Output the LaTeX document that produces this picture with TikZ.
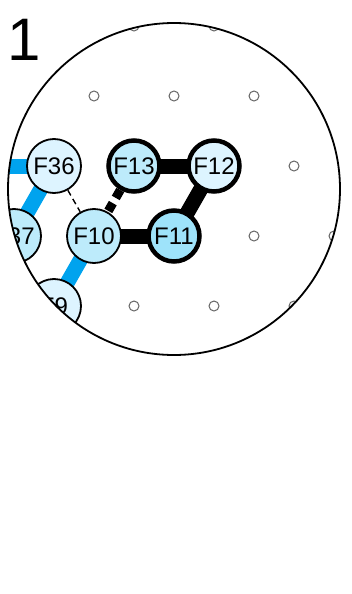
\documentclass[tikz,border=0pt]{standalone}
\usepackage{fontspec}
\setmainfont{Liberation Sans}
\usetikzlibrary{backgrounds}
\definecolor{nlight}{HTML}{DDF4FF}
\definecolor{nmid}{HTML}{BDEBFB}
\definecolor{ndark}{HTML}{9EE3FA}
\definecolor{eblue}{HTML}{00A3EE}
\begin{document}
\begin{tikzpicture}[x=1pt,y=-1pt,
  fnode/.style={circle,draw=black,line width=1.8pt,minimum size=54pt,inner sep=0pt,font=\fontsize{24}{24}\selectfont},
  fthick/.style={fnode,line width=4.5pt,minimum size=51pt},
  gdot/.style={circle,draw=black!60,line width=1pt,minimum size=10pt,inner sep=0pt},
  bedge/.style={line width=15pt,black},
  blueedge/.style={line width=15pt,eblue},
  dedge/.style={line width=9pt,black,dash pattern=on 9pt off 6pt},
  tedge/.style={line width=1.4pt,black,dash pattern=on 6pt off 4pt}]
\useasboundingbox (0,0) rectangle (351,594);
\node[font=\fontsize{60}{60}\selectfont,anchor=base] (lab) at (24,61) {1};
\begin{scope}
\clip (174,189) circle (166);
\foreach \x/\y [count=\i] in {134/26,214/26,94/96,174/96,254/96,294/166,254/236,334/236,134/306,214/306,294/306}
  \node[gdot] (d\i) at (\x,\y) {};
\coordinate (F35) at (-26,166);
\node[fnode,fill=nlight] (F36) at (54,166) {F36};
\node[fthick,fill=nmid] (F13) at (134,166) {F13};
\node[fthick,fill=nlight] (F12) at (214,166) {F12};
\node[fnode,fill=nmid] (F37) at (14,236) {F37};
\node[fnode,fill=nmid] (F10) at (94,236) {F10};
\node[fthick,fill=ndark] (F11) at (174,236) {F11};
\node[fnode,fill=nlight] (F9) at (54,306) {F9};
\end{scope}
\begin{scope}[on background layer]
\clip (174,189) circle (166);
\draw[blueedge] (F36.center) -- (F35);
\draw[blueedge] (F36.center) -- (F37.center);
\draw[blueedge] (F10.center) -- (F9.center);
\draw[bedge] (F13.center) -- (F12.center);
\draw[bedge] (F12.center) -- (F11.center);
\draw[bedge] (F10.center) -- (F11.center);
\draw[dedge] (F13) -- (F10);
\draw[tedge] (F36) -- (F10);
\end{scope}
\draw[line width=1.8pt] (174,189) circle (166);
\end{tikzpicture}
\end{document}
